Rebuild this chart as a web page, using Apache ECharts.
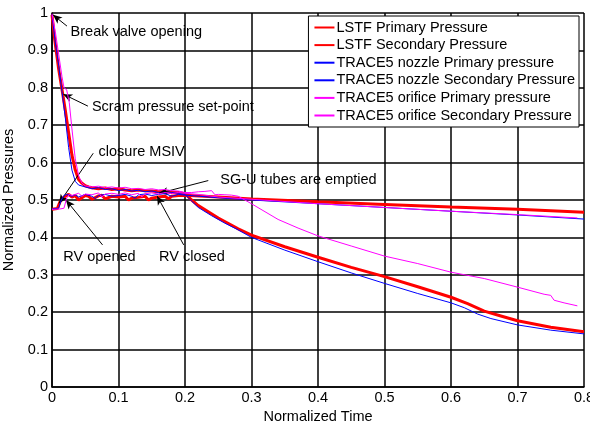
<!DOCTYPE html>
<html>
<head>
<meta charset="utf-8">
<script src="https://cdn.jsdelivr.net/npm/echarts@6/dist/echarts.min.js"></script>
<style>
html,body{margin:0;padding:0;background:#fff;}
#chart{width:590px;height:421px;}
</style>
</head>
<body>
<div id="chart"></div>
<script>
// ---- Data (normalized time / normalized pressure) ----
var seriesNames = [
  'LSTF Primary Pressure',
  'LSTF Secondary Pressure',
  'TRACE5 nozzle Primary pressure',
  'TRACE5 nozzle Secondary Pressure',
  'TRACE5 orifice Primary pressure',
  'TRACE5 orifice Secondary Pressure'
];

var lstfPrimT = [0, 0.004, 0.01, 0.016, 0.02, 0.025, 0.03, 0.035, 0.04, 0.045, 0.05, 0.055, 0.06, 0.07, 0.08, 0.09, 0.1, 0.11, 0.12, 0.13, 0.14, 0.15, 0.16, 0.17, 0.18, 0.19, 0.2, 0.21, 0.22, 0.25, 0.28, 0.3, 0.35, 0.4, 0.45, 0.5, 0.55, 0.6, 0.625, 0.65, 0.675, 0.7, 0.75, 0.8];
var lstfPrimV = [0.995, 0.93, 0.85, 0.785, 0.74, 0.68, 0.62, 0.58, 0.555, 0.545, 0.538, 0.535, 0.533, 0.53, 0.532, 0.528, 0.53, 0.527, 0.525, 0.527, 0.525, 0.524, 0.522, 0.523, 0.52, 0.52, 0.517, 0.5, 0.485, 0.452, 0.423, 0.406, 0.375, 0.347, 0.32, 0.295, 0.268, 0.24, 0.223, 0.203, 0.19, 0.177, 0.16, 0.148];

var lstfSecT = [0, 0.008, 0.012, 0.016, 0.02, 0.025, 0.03, 0.035, 0.04, 0.05, 0.055, 0.06, 0.07, 0.075, 0.08, 0.09, 0.1, 0.11, 0.115, 0.12, 0.13, 0.14, 0.145, 0.15, 0.16, 0.17, 0.175, 0.18, 0.19, 0.2, 0.25, 0.3, 0.4, 0.5, 0.6, 0.7, 0.8];
var lstfSecV = [0.475, 0.477, 0.495, 0.505, 0.51, 0.515, 0.508, 0.512, 0.5, 0.512, 0.51, 0.502, 0.511, 0.513, 0.503, 0.51, 0.508, 0.51, 0.5, 0.505, 0.507, 0.51, 0.5, 0.505, 0.508, 0.51, 0.503, 0.51, 0.512, 0.513, 0.508, 0.503, 0.495, 0.488, 0.481, 0.475, 0.467];

var nozPrimT = [0, 0.005, 0.01, 0.015, 0.02, 0.025, 0.03, 0.035, 0.04, 0.05, 0.06, 0.07, 0.08, 0.09, 0.1, 0.11, 0.12, 0.13, 0.14, 0.15, 0.16, 0.17, 0.18, 0.19, 0.2, 0.21, 0.22, 0.24, 0.26, 0.28, 0.3, 0.35, 0.4, 0.45, 0.5, 0.55, 0.6, 0.62, 0.64, 0.66, 0.7, 0.75, 0.8];
var nozPrimV = [0.995, 0.92, 0.86, 0.79, 0.72, 0.64, 0.58, 0.55, 0.54, 0.535, 0.53, 0.533, 0.528, 0.53, 0.525, 0.528, 0.524, 0.526, 0.522, 0.524, 0.52, 0.522, 0.52, 0.518, 0.515, 0.497, 0.48, 0.458, 0.438, 0.42, 0.4, 0.366, 0.335, 0.305, 0.277, 0.25, 0.225, 0.212, 0.195, 0.183, 0.166, 0.152, 0.142];

var nozSecT = [0, 0.01, 0.014, 0.018, 0.022, 0.03, 0.035, 0.04, 0.05, 0.06, 0.065, 0.07, 0.08, 0.09, 0.1, 0.11, 0.12, 0.125, 0.13, 0.14, 0.15, 0.16, 0.17, 0.18, 0.19, 0.2, 0.25, 0.3, 0.4, 0.5, 0.6, 0.7, 0.8];
var nozSecV = [0.476, 0.478, 0.5, 0.512, 0.515, 0.51, 0.514, 0.508, 0.515, 0.51, 0.504, 0.512, 0.515, 0.51, 0.512, 0.515, 0.51, 0.505, 0.514, 0.516, 0.512, 0.515, 0.517, 0.51, 0.515, 0.513, 0.506, 0.5, 0.49, 0.48, 0.47, 0.46, 0.449];

var oriPrimT = [0, 0.005, 0.01, 0.015, 0.018, 0.022, 0.026, 0.03, 0.035, 0.04, 0.045, 0.05, 0.06, 0.07, 0.08, 0.09, 0.1, 0.11, 0.12, 0.13, 0.14, 0.15, 0.16, 0.17, 0.18, 0.19, 0.2, 0.21, 0.22, 0.23, 0.24, 0.245, 0.25, 0.26, 0.27, 0.28, 0.29, 0.3, 0.34, 0.37, 0.4, 0.45, 0.5, 0.55, 0.6, 0.65, 0.7, 0.74, 0.75, 0.755, 0.77, 0.79];
var oriPrimV = [0.998, 0.95, 0.89, 0.83, 0.8, 0.795, 0.76, 0.69, 0.61, 0.565, 0.545, 0.538, 0.535, 0.537, 0.533, 0.535, 0.532, 0.534, 0.53, 0.531, 0.528, 0.53, 0.527, 0.528, 0.525, 0.524, 0.52, 0.52, 0.522, 0.523, 0.525, 0.514, 0.515, 0.514, 0.513, 0.51, 0.5, 0.49, 0.448, 0.425, 0.404, 0.377, 0.35, 0.33, 0.307, 0.29, 0.267, 0.248, 0.245, 0.232, 0.225, 0.217];

var oriSecT = [0, 0.012, 0.018, 0.022, 0.026, 0.03, 0.04, 0.045, 0.05, 0.06, 0.07, 0.075, 0.08, 0.09, 0.1, 0.11, 0.12, 0.13, 0.135, 0.14, 0.15, 0.16, 0.17, 0.18, 0.19, 0.2, 0.22, 0.25, 0.3, 0.4, 0.5, 0.6, 0.7, 0.79];
var oriSecV = [0.475, 0.476, 0.478, 0.505, 0.515, 0.512, 0.518, 0.51, 0.516, 0.514, 0.519, 0.508, 0.516, 0.518, 0.515, 0.519, 0.514, 0.518, 0.508, 0.517, 0.519, 0.516, 0.52, 0.517, 0.52, 0.518, 0.515, 0.508, 0.502, 0.49, 0.48, 0.47, 0.461, 0.452];

// annotations: label text, label anchor [t,v], arrow tail [t,v], arrow tip [t,v]
var annoText = ['Break valve opening', 'Scram pressure set-point', 'closure MSIV', 'RV opened', 'RV closed', 'SG-U tubes are emptied'];
var annoLabelAt = [[0.028, 0.949], [0.06, 0.749], [0.07, 0.629], [0.017, 0.348], [0.161, 0.348], [0.253, 0.553]];
var annoTail = [[0.0225, 0.965], [0.054, 0.751], [0.062, 0.625], [0.076, 0.38], [0.198, 0.38], [0.235, 0.552]];
var annoTip = [[0.0015, 0.995], [0.017, 0.783], [0.0105, 0.491], [0.021, 0.5], [0.158, 0.511], [0.161, 0.518]];

var xTickMin = 0, xTickMax = 0.8, xTickStep = 0.1;
var yTickMin = 0, yTickMax = 1, yTickStep = 0.1;

// ---- Build ----
function pairs(t, v) { return t.map(function (x, i) { return [x, v[i]]; }); }
var colors = ['#ff0000', '#ff0000', '#0000ff', '#0000ff', '#ff00ff', '#ff00ff'];
var widths = [3, 3, 1, 1, 1, 1];
var dataSets = [
  pairs(lstfPrimT, lstfPrimV), pairs(lstfSecT, lstfSecV),
  pairs(nozPrimT, nozPrimV), pairs(nozSecT, nozSecV),
  pairs(oriPrimT, oriPrimV), pairs(oriSecT, oriSecV)
];
var FONT = 'Liberation Sans, Arial, sans-serif';
var FS = 14.5;

var series = seriesNames.map(function (n, i) {
  return {
    name: n, type: 'line', data: dataSets[i], showSymbol: false, symbol: 'none',
    lineStyle: { color: colors[i], width: widths[i] }, itemStyle: { color: colors[i] },
    animation: false, z: 2 + i
  };
});

series.push({
  name: 'annotations', type: 'line', data: [], silent: true, animation: false, z: 20,
  markLine: {
    silent: true, animation: false, symbol: ['none', 'arrow'], symbolSize: [6, 9],
    lineStyle: { color: '#000', width: 1, type: 'solid' },
    label: { show: false },
    data: annoTail.map(function (p, i) { return [{ coord: p }, { coord: annoTip[i] }]; })
  },
  markPoint: {
    silent: true, animation: false, symbol: 'circle', symbolSize: 0,
    itemStyle: { color: 'transparent' },
    label: { show: true, position: 'right', distance: 0, color: '#000', fontSize: FS, fontFamily: FONT,
      formatter: function (p) { return p.name; } },
    data: annoText.map(function (s, i) { return { name: s, coord: annoLabelAt[i] }; })
  }
});

var chart = echarts.init(document.getElementById('chart'), null, { renderer: 'canvas' });
chart.setOption({
  animation: false,
  backgroundColor: '#fff',
  grid: { left: 52, right: 6, top: 13, bottom: 34, containLabel: false, outerBoundsMode: 'none' },
  legend: {
    data: seriesNames,
    orient: 'vertical', right: 11, top: 16,
    backgroundColor: '#fff', borderColor: '#000', borderWidth: 1,
    padding: [4, 4, 4, 6], itemGap: 2.6, itemWidth: 20, itemHeight: 2,
    icon: 'rect',
    textStyle: { color: '#000', fontSize: FS, fontFamily: FONT, padding: [0, 0, 0, -3] }
  },
  xAxis: {
    type: 'value', min: xTickMin, max: xTickMax, interval: xTickStep,
    name: 'Normalized Time', nameLocation: 'middle', nameGap: 18,
    nameTextStyle: { color: '#000', fontSize: FS, fontFamily: FONT },
    axisLine: { show: true, onZero: false, lineStyle: { color: '#000', width: 1.5 } },
    axisTick: { show: false },
    axisLabel: { color: '#000', fontSize: FS, fontFamily: FONT, margin: 3 },
    splitLine: { show: true, lineStyle: { color: '#000', width: 1.5 } }
  },
  yAxis: {
    type: 'value', min: yTickMin, max: yTickMax, interval: yTickStep,
    name: 'Normalized Pressures', nameLocation: 'middle', nameGap: 27,
    nameTextStyle: { color: '#000', fontSize: FS, fontFamily: FONT },
    axisLine: { show: true, lineStyle: { color: '#000', width: 1.5 } },
    axisTick: { show: false },
    axisLabel: { color: '#000', fontSize: FS, fontFamily: FONT, margin: 4 },
    splitLine: { show: true, lineStyle: { color: '#000', width: 1.5 } }
  },
  series: series
});
</script>
</body>
</html>
